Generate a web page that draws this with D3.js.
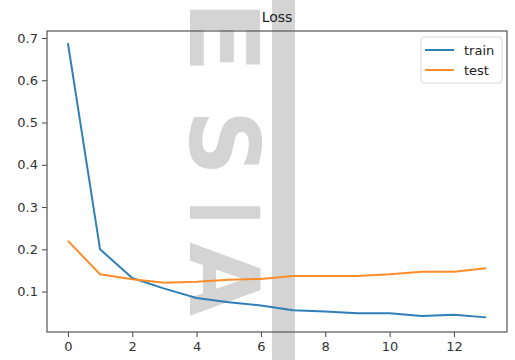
<!DOCTYPE html>
<html>
<head>
<meta charset="utf-8">
<script src="https://cdn.jsdelivr.net/npm/d3@7"></script>
<style>
  html, body { margin: 0; padding: 0; background: #fff; }
  svg { display: block; }
  text { font-family: "DejaVu Sans", sans-serif; }
</style>
</head>
<body>
<svg id="chart" width="515" height="360"></svg>
<script>
const epochs = [0,1,2,3,4,5,6,7,8,9,10,11,12,13];
const trainLoss = [0.688,0.200,0.132,0.107,0.085,0.075,0.067,0.056,0.053,0.049,0.049,0.042,0.045,0.039];
const testLoss  = [0.220,0.141,0.129,0.121,0.123,0.128,0.130,0.137,0.137,0.137,0.141,0.147,0.147,0.155];
const xTicks = [0,2,4,6,8,10,12];
const yTicks = [0.1,0.2,0.3,0.4,0.5,0.6,0.7];
const seriesNames = ["train","test"];
const seriesColors = ["#2f7fb8","#ff8c2a"];
const title = "Loss";

const svg = d3.select("#chart");
const W = 515, H = 360;
const m = {left: 47, right: 8, top: 31, bottom: 28};

// faint watermark (decorative, behind the chart)
const wm = svg.append("g").attr("fill", "#d4d4d4");
wm.append("rect").attr("x", 272).attr("y", 0).attr("width", 23).attr("height", H);
[["E", 0, 1.12], ["S", 110, 0.95], ["I", 200, 0.7], ["A", 242, 1.0]].forEach(([ch, y0, sx]) => {
  wm.append("text")
    .attr("transform", `translate(190,${y0}) rotate(90) scale(${sx},1)`)
    .attr("font-family", "DejaVu Sans")
    .attr("font-weight", "bold")
    .attr("font-size", 96)
    .text(ch);
});

const x = d3.scaleLinear().domain([-0.65, 13.65]).range([m.left, W - m.right]);
const y = d3.scaleLinear().domain([0.0044, 0.7165]).range([H - m.bottom, m.top]);

const g = svg.append("g");

// axes
const xAxis = d3.axisBottom(x).tickValues(xTicks).tickSize(5).tickPadding(5).tickFormat(d3.format("d"));
const yAxis = d3.axisLeft(y).tickValues(yTicks).tickSize(5).tickPadding(4).tickFormat(d3.format(".1f"));

const gx = g.append("g").attr("transform", `translate(0,${H - m.bottom})`).call(xAxis);
const gy = g.append("g").attr("transform", `translate(${m.left},0)`).call(yAxis);
[gx, gy].forEach(a => {
  a.select(".domain").remove();
  a.selectAll(".tick line").attr("stroke", "#444").attr("stroke-width", 1);
  a.selectAll(".tick text").attr("fill", "#333").attr("font-size", 13).attr("font-family", "DejaVu Sans");
});

// spines
g.append("rect")
  .attr("x", m.left).attr("y", m.top)
  .attr("width", W - m.right - m.left).attr("height", H - m.bottom - m.top)
  .attr("fill", "none").attr("stroke", "#555").attr("stroke-width", 1.2);

// lines
const line = d3.line().x((d, i) => x(epochs[i])).y(d => y(d));
[trainLoss, testLoss].forEach((s, k) => {
  g.append("path").datum(s)
    .attr("d", line)
    .attr("fill", "none")
    .attr("stroke", seriesColors[k])
    .attr("stroke-width", 2)
    .attr("stroke-linejoin", "round");
});

// title
g.append("text")
  .attr("x", (m.left + W - m.right) / 2).attr("y", 22)
  .attr("text-anchor", "middle")
  .attr("font-size", 14).attr("fill", "#222")
  .text(title);

// legend
const lg = g.append("g").attr("transform", "translate(421,37)");
lg.append("rect").attr("width", 81).attr("height", 46).attr("rx", 3)
  .attr("fill", "#fff").attr("fill-opacity", 0.85)
  .attr("stroke", "#d8d8d8").attr("stroke-width", 1);
seriesNames.forEach((n, i) => {
  const yy = 13 + i * 20;
  lg.append("line").attr("x1", 4).attr("x2", 33).attr("y1", yy).attr("y2", yy)
    .attr("stroke", seriesColors[i]).attr("stroke-width", 2);
  lg.append("text").attr("x", 43).attr("y", yy + 5)
    .attr("font-size", 13).attr("fill", "#222").text(n);
});
</script>
</body>
</html>
